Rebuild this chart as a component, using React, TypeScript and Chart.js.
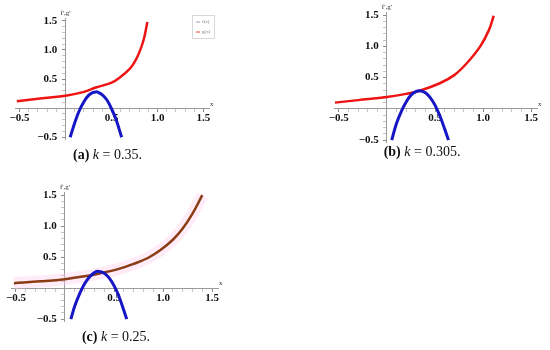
import React, { useEffect, useRef } from 'react';
import { Chart, registerables } from 'chart.js';
Chart.register(...registerables);

// ---------- shared tick labels / titles ----------
const tickValues = [-0.5, 0.5, 1.0, 1.5];
const xTickLabels = ['\u22120.5', '0.5', '1.0', '1.5'];
const yTickLabels = ['\u22120.5', '0.5', '1.0', '1.5'];
const xAxisTitle = 'x';
const yAxisTitle = "f',g'";
const legendLabels = ['f(x)', 'g(x)'];

// ---------- (a) k = 0.35 ----------
const fA_x = [-0.53, -0.3, 0, 0.2, 0.33, 0.5, 0.6, 0.7, 0.75, 0.8, 0.85, 0.89];
const fA_y = [0.12, 0.16, 0.215, 0.28, 0.355, 0.44, 0.54, 0.68, 0.79, 0.95, 1.18, 1.48];
const gA_x = [0.05, 0.1, 0.15, 0.2, 0.25, 0.3, 0.33, 0.35, 0.4, 0.45, 0.5, 0.55, 0.61];
const gA_y = [-0.5, -0.25, -0.04, 0.11, 0.22, 0.27, 0.28, 0.276, 0.23, 0.14, -0.01, -0.2, -0.5];

// ---------- (b) k = 0.305 ----------
const fB_x = [-0.54, -0.3, 0, 0.2, 0.34, 0.55, 0.7, 0.83, 0.97, 1.06, 1.11];
const fB_y = [0.1, 0.14, 0.19, 0.24, 0.29, 0.41, 0.54, 0.73, 1.0, 1.26, 1.49];
const gB_x = [0.05, 0.1, 0.15, 0.2, 0.25, 0.3, 0.34, 0.4, 0.45, 0.5, 0.55, 0.6, 0.64];
const gB_y = [-0.5, -0.23, -0.04, 0.11, 0.22, 0.275, 0.29, 0.257, 0.18, 0.06, -0.11, -0.32, -0.5];

// ---------- (c) k = 0.25 ----------
const fC_x = [-0.52, -0.25, 0, 0.2, 0.36, 0.55, 0.7, 0.85, 0.97, 1.1, 1.2, 1.3, 1.4];
const fC_y = [0.08, 0.11, 0.145, 0.19, 0.24, 0.31, 0.39, 0.49, 0.61, 0.78, 0.96, 1.2, 1.5];
const gC_x = [0.06, 0.1, 0.15, 0.2, 0.25, 0.3, 0.345, 0.4, 0.45, 0.5, 0.55, 0.63];
const gC_y = [-0.5, -0.29, -0.09, 0.07, 0.18, 0.25, 0.27, 0.24, 0.165, 0.04, -0.13, -0.5];

// ---------- layout / style ----------
const X_MIN = -0.55;
const X_MAX = 1.56;
const Y_MIN = -0.53;
const Y_MAX = 1.55;
const PAD = 24;
const AXIS_COLOR = '#9a9a9a';
const SERIF = '"Liberation Serif", "Times New Roman", serif';

const panels = [
  {
    key: 'a', fx: fA_x, fy: fA_y, gx: gA_x, gy: gA_y,
    fColor: '#ee1414', band: false, legend: true,
    ox: 66, oy: 108, sx: 92, sy: 58.3,
    cap: '(a)', k: '0.35', capLeft: 0, capWidth: 215, capTop: 146,
  },
  {
    key: 'b', fx: fB_x, fy: fB_y, gx: gB_x, gy: gB_y,
    fColor: '#ee1414', band: false, legend: false,
    ox: 387, oy: 109, sx: 96, sy: 62.5,
    cap: '(b)', k: '0.305', capLeft: 322, capWidth: 200, capTop: 143,
  },
  {
    key: 'c', fx: fC_x, fy: fC_y, gx: gC_x, gy: gC_y,
    fColor: '#8a3c14', band: true, legend: false,
    ox: 65, oy: 288, sx: 98, sy: 62,
    cap: '(c)', k: '0.25', capLeft: 16, capWidth: 200, capTop: 328,
  },
];

function toPoints(xs: number[], ys: number[]) {
  return xs.map((x, i) => ({ x, y: ys[i] }));
}

function labelFor(labels: string[], value: number, suffix = '') {
  const i = tickValues.findIndex((t) => Math.abs(t - value) < 1e-6);
  return i >= 0 ? labels[i] + suffix : '';
}

const decorPlugin = {
  id: 'decor',
  afterDraw(chart: any, _args: any, opts: any) {
    const { ctx, chartArea, scales } = chart;
    const xs = scales.x;
    const ys = scales.y;
    ctx.save();
    ctx.fillStyle = '#333';
    ctx.font = `7px ${SERIF}`;
    ctx.textAlign = 'left';
    ctx.textBaseline = 'bottom';
    ctx.fillText(xAxisTitle, chartArea.right + 1, ys.getPixelForValue(0) - 1);
    ctx.textAlign = 'center';
    ctx.fillText(yAxisTitle, xs.getPixelForValue(0), chartArea.top - 1);
    if (opts && opts.legend) {
      const bx = chartArea.right - 17;
      const by = chartArea.top - 3;
      ctx.strokeStyle = '#cfcfcf';
      ctx.lineWidth = 0.8;
      ctx.strokeRect(bx + 0.5, by + 0.5, 22, 23);
      ctx.font = `5px ${SERIF}`;
      ctx.textAlign = 'left';
      ctx.textBaseline = 'middle';
      const colors = ['#8888aa', opts.fColor];
      legendLabels.forEach((t, i) => {
        const yy = by + 7 + i * 10;
        ctx.strokeStyle = colors[i];
        ctx.lineWidth = 0.8;
        ctx.beginPath();
        ctx.moveTo(bx + 4, yy);
        ctx.lineTo(bx + 8, yy);
        ctx.stroke();
        ctx.fillStyle = '#777';
        ctx.fillText(t, bx + 10, yy);
      });
    }
    ctx.restore();
  },
};

function makeScale(axis: 'x' | 'y') {
  const isX = axis === 'x';
  return {
    type: 'linear',
    min: isX ? X_MIN : Y_MIN,
    max: isX ? X_MAX : Y_MAX,
    position: isX ? { y: 0 } : { x: 0 },
    border: { display: true, color: AXIS_COLOR, width: 1 },
    grid: {
      display: true,
      drawOnChartArea: false,
      drawTicks: true,
      tickLength: 3,
      tickWidth: 1,
      tickColor: (c: any) =>
        c.tick && tickValues.some((t) => Math.abs(t - c.tick.value) < 1e-6) ? '#8a8a8a' : '#c4c4c4',
    },
    ticks: {
      stepSize: 0.1,
      autoSkip: false,
      includeBounds: false,
      maxRotation: 0,
      minRotation: 0,
      padding: 0,
      color: '#111',
      font: { family: SERIF, size: 11, weight: 'bold' },
      callback: (v: any) => (isX ? labelFor(xTickLabels, Number(v)) : labelFor(yTickLabels, Number(v), '   ')),
    },
  };
}

function Panel({ p }: { p: any }) {
  const ref = useRef<HTMLCanvasElement>(null);
  const L = p.ox + X_MIN * p.sx;
  const R = p.ox + X_MAX * p.sx;
  const T = p.oy - Y_MAX * p.sy;
  const B = p.oy - Y_MIN * p.sy;
  const left = Math.round(L - PAD);
  const top = Math.round(T - PAD);
  const w = Math.round(R - L) + 2 * PAD;
  const h = Math.round(B - T) + 2 * PAD;

  useEffect(() => {
    if (!ref.current) return;
    const lineBase = { showLine: true, pointRadius: 0, tension: 0.4 };
    const datasets: any[] = [
      {
        ...lineBase,
        label: 'g',
        data: toPoints(p.gx, p.gy),
        borderColor: '#1616c4',
        borderWidth: 3,
      },
      {
        ...lineBase,
        label: 'f',
        data: toPoints(p.fx, p.fy),
        borderColor: p.fColor,
        borderWidth: 2.5,
      },
    ];
    if (p.band) {
      datasets.push({
        ...lineBase,
        label: 'band',
        data: toPoints(p.fx, p.fy),
        borderColor: 'rgba(255, 200, 235, 0.35)',
        borderWidth: 12,
      });
    }
    const chart = new Chart(ref.current, {
      type: 'scatter',
      data: { datasets },
      options: {
        responsive: false,
        animation: false,
        events: [],
        layout: { padding: PAD },
        plugins: {
          legend: { display: false },
          tooltip: { enabled: false },
          decor: { legend: p.legend, fColor: p.fColor },
        } as any,
        scales: { x: makeScale('x'), y: makeScale('y') } as any,
      },
      plugins: [decorPlugin],
    });
    return () => chart.destroy();
  }, []);

  return (
    <>
      <canvas
        ref={ref}
        width={w}
        height={h}
        style={{ position: 'absolute', left, top, width: w, height: h }}
      />
      <div
        style={{
          position: 'absolute',
          left: p.capLeft,
          top: p.capTop,
          width: p.capWidth,
          textAlign: 'center',
          fontFamily: SERIF,
          fontSize: 14,
          lineHeight: '18px',
          color: '#111',
          whiteSpace: 'nowrap',
        }}
      >
        <b>{p.cap}</b> <i>k</i> = {p.k}.
      </div>
    </>
  );
}

export default function App() {
  return (
    <div
      style={{
        position: 'absolute',
        left: 0,
        top: 0,
        width: 550,
        height: 350,
        background: '#fff',
        overflow: 'hidden',
      }}
    >
      {panels.map((p) => (
        <Panel key={p.key} p={p} />
      ))}
    </div>
  );
}
